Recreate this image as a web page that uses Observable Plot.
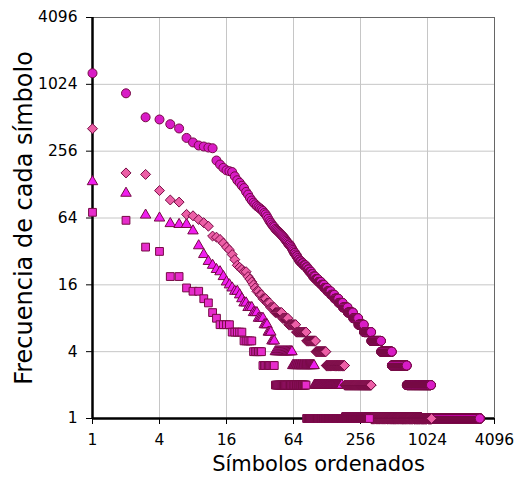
<!DOCTYPE html>
<html>
<head>
<meta charset="utf-8">
<script src="https://cdn.jsdelivr.net/npm/d3@7"></script>
<script src="https://cdn.jsdelivr.net/npm/@observablehq/plot@0.6"></script>
<style>
  body { margin: 0; background: #fff; font-family: "DejaVu Sans", Verdana, sans-serif; }
</style>
</head>
<body>
<div id="chart"></div>
<script>
// Axis ticks (powers of four, shared by both log axes)
const ticks = [1, 4, 16, 64, 256, 1024, 4096];

// Each series: distinct frequencies (descending) and how many symbols share each one.
const circleFreq  = [1290, 850, 517, 494, 448, 410, 337, 307, 288, 282, 276, 272, 211, 194, 181, 172, 169, 166, 152, 140,
                     133, 125, 119, 110, 104, 97, 92, 88, 85, 82, 80, 78, 76, 74, 71, 69, 66, 63, 60, 58,
                     56, 54, 53, 51, 50, 49, 48, 47, 46, 45, 44, 43, 42, 41, 40, 39, 38, 37, 36, 35,
                     34, 33, 32, 31, 30, 29, 28, 27, 26, 25, 24, 23, 22, 21, 20, 19, 18, 17, 16, 15,
                     14, 13, 12, 11, 10, 9, 8, 7, 6, 5, 4, 3, 2, 1];
const circleCount = [1, 1, 1, 1, 1, 1, 1, 1, 1, 1, 1, 1, 1, 1, 1, 1, 1, 1, 1, 1,
                     1, 1, 1, 1, 1, 1, 1, 1, 1, 1, 1, 1, 1, 1, 1, 1, 1, 1, 1, 1,
                     1, 1, 1, 1, 1, 1, 1, 1, 1, 1, 1, 1, 1, 1, 1, 1, 1, 2, 1, 1,
                     1, 1, 1, 2, 1, 2, 1, 2, 3, 3, 4, 3, 3, 4, 3, 5, 6, 7, 7, 8,
                     10, 11, 13, 15, 19, 23, 25, 30, 45, 72, 98, 177, 434, 1920];

const diamondFreq  = [408, 163, 158, 113, 93, 89, 69, 67, 62, 58, 54, 44, 43, 41, 38, 35, 33, 30, 27, 24,
                      23, 22, 21, 19, 18, 17, 16, 15, 14, 13, 12, 11, 10, 9, 8, 7, 6, 5, 4, 3, 2, 1];
const diamondCount = [1, 1, 1, 1, 1, 1, 1, 1, 1, 1, 1, 1, 1, 1, 1, 1, 1, 1, 1, 1,
                      1, 1, 2, 1, 1, 1, 1, 1, 2, 2, 3, 3, 4, 7, 7, 10, 16, 18, 24, 59, 135, 796];

const triangleFreq  = [136, 107, 68, 64, 57, 56, 49, 36, 30, 26, 24, 22, 21, 19, 17, 16, 15, 14, 13, 12,
                       11, 10, 9, 8, 7, 6, 5, 4, 3, 2, 1];
const triangleCount = [1, 1, 1, 1, 1, 2, 1, 1, 1, 1, 1, 1, 1, 1, 1, 1, 1, 2, 1, 1,
                       2, 3, 3, 4, 3, 3, 3, 19, 36, 76, 726];

const squareFreq  = [72, 61, 35, 32, 19, 15, 14, 12, 11, 9, 8, 7, 6, 5, 4, 3, 2, 1];
const squareCount = [1, 1, 1, 1, 2, 1, 2, 1, 1, 1, 1, 4, 5, 5, 6, 10, 40, 225];

// Expand frequency runs into rank-ordered symbols
function ranked(freqs, counts) {
  const rows = [];
  let rank = 1;
  freqs.forEach((f, i) => {
    for (let k = 0; k < counts[i]; k++) rows.push({ rank: rank++, freq: f });
  });
  return rows;
}

const circles   = ranked(circleFreq, circleCount);
const diamonds  = ranked(diamondFreq, diamondCount);
const triangles = ranked(triangleFreq, triangleCount);
const squares   = ranked(squareFreq, squareCount);

const edge = "#760a44";
const font = "DejaVu Sans, Verdana, sans-serif";
const inner = ticks.slice(1, -1);

const chart = Plot.plot({
  width: 517,
  height: 489,
  marginLeft: 92,
  marginRight: 23,
  marginTop: 17,
  marginBottom: 71,
  style: { fontFamily: font, fontSize: "15px", background: "#fff", color: "#000", overflow: "visible" },
  x: { type: "log", base: 2, domain: [1, 4096] },
  y: { type: "log", base: 2, domain: [1, 4096] },
  marks: [
    Plot.gridX(inner, { stroke: "#c6c6c6", strokeOpacity: 1 }),
    Plot.gridY(inner, { stroke: "#c6c6c6", strokeOpacity: 1 }),
    Plot.frame({ stroke: "#666" }),
    Plot.ruleX([1], { stroke: "#000", strokeWidth: 2.5 }),
    Plot.ruleY([1], { stroke: "#000", strokeWidth: 2.5 }),
    Plot.axisX(ticks, { tickSize: 6, tickPadding: 9, label: null, tickFormat: d => String(d), fontSize: 15.5 }),
    Plot.axisY(ticks, { tickSize: 6, tickPadding: 9, label: null, tickFormat: d => String(d), fontSize: 15.5 }),
    Plot.dot(circles,   { x: "rank", y: "freq", symbol: "circle",   r: 4.5, fill: "#d81cc6", stroke: edge, strokeWidth: 1 }),
    Plot.dot(triangles, { x: "rank", y: "freq", symbol: "triangle", r: 3.9, fill: "#f01ef0", stroke: edge, strokeWidth: 1 }),
    Plot.dot(diamonds,  { x: "rank", y: "freq", symbol: "diamond2", r: 4.5, fill: "#ec5fa6", stroke: edge, strokeWidth: 1 }),
    Plot.dot(squares,   { x: "rank", y: "freq", symbol: "square",   r: 4.4, fill: "#e62ccc", stroke: edge, strokeWidth: 1 }),
    Plot.text(["Símbolos ordenados"], { text: d => d, frameAnchor: "bottom", textAnchor: "middle", dx: 25, dy: 52, fontSize: 21, fill: "#000" }),
    Plot.text(["Frecuencia de cada símbolo"], { text: d => d, frameAnchor: "left", textAnchor: "middle", rotate: -90, dx: -68, fontSize: 24, fill: "#000" })
  ]
});

document.getElementById("chart").appendChild(chart);
</script>
</body>
</html>
